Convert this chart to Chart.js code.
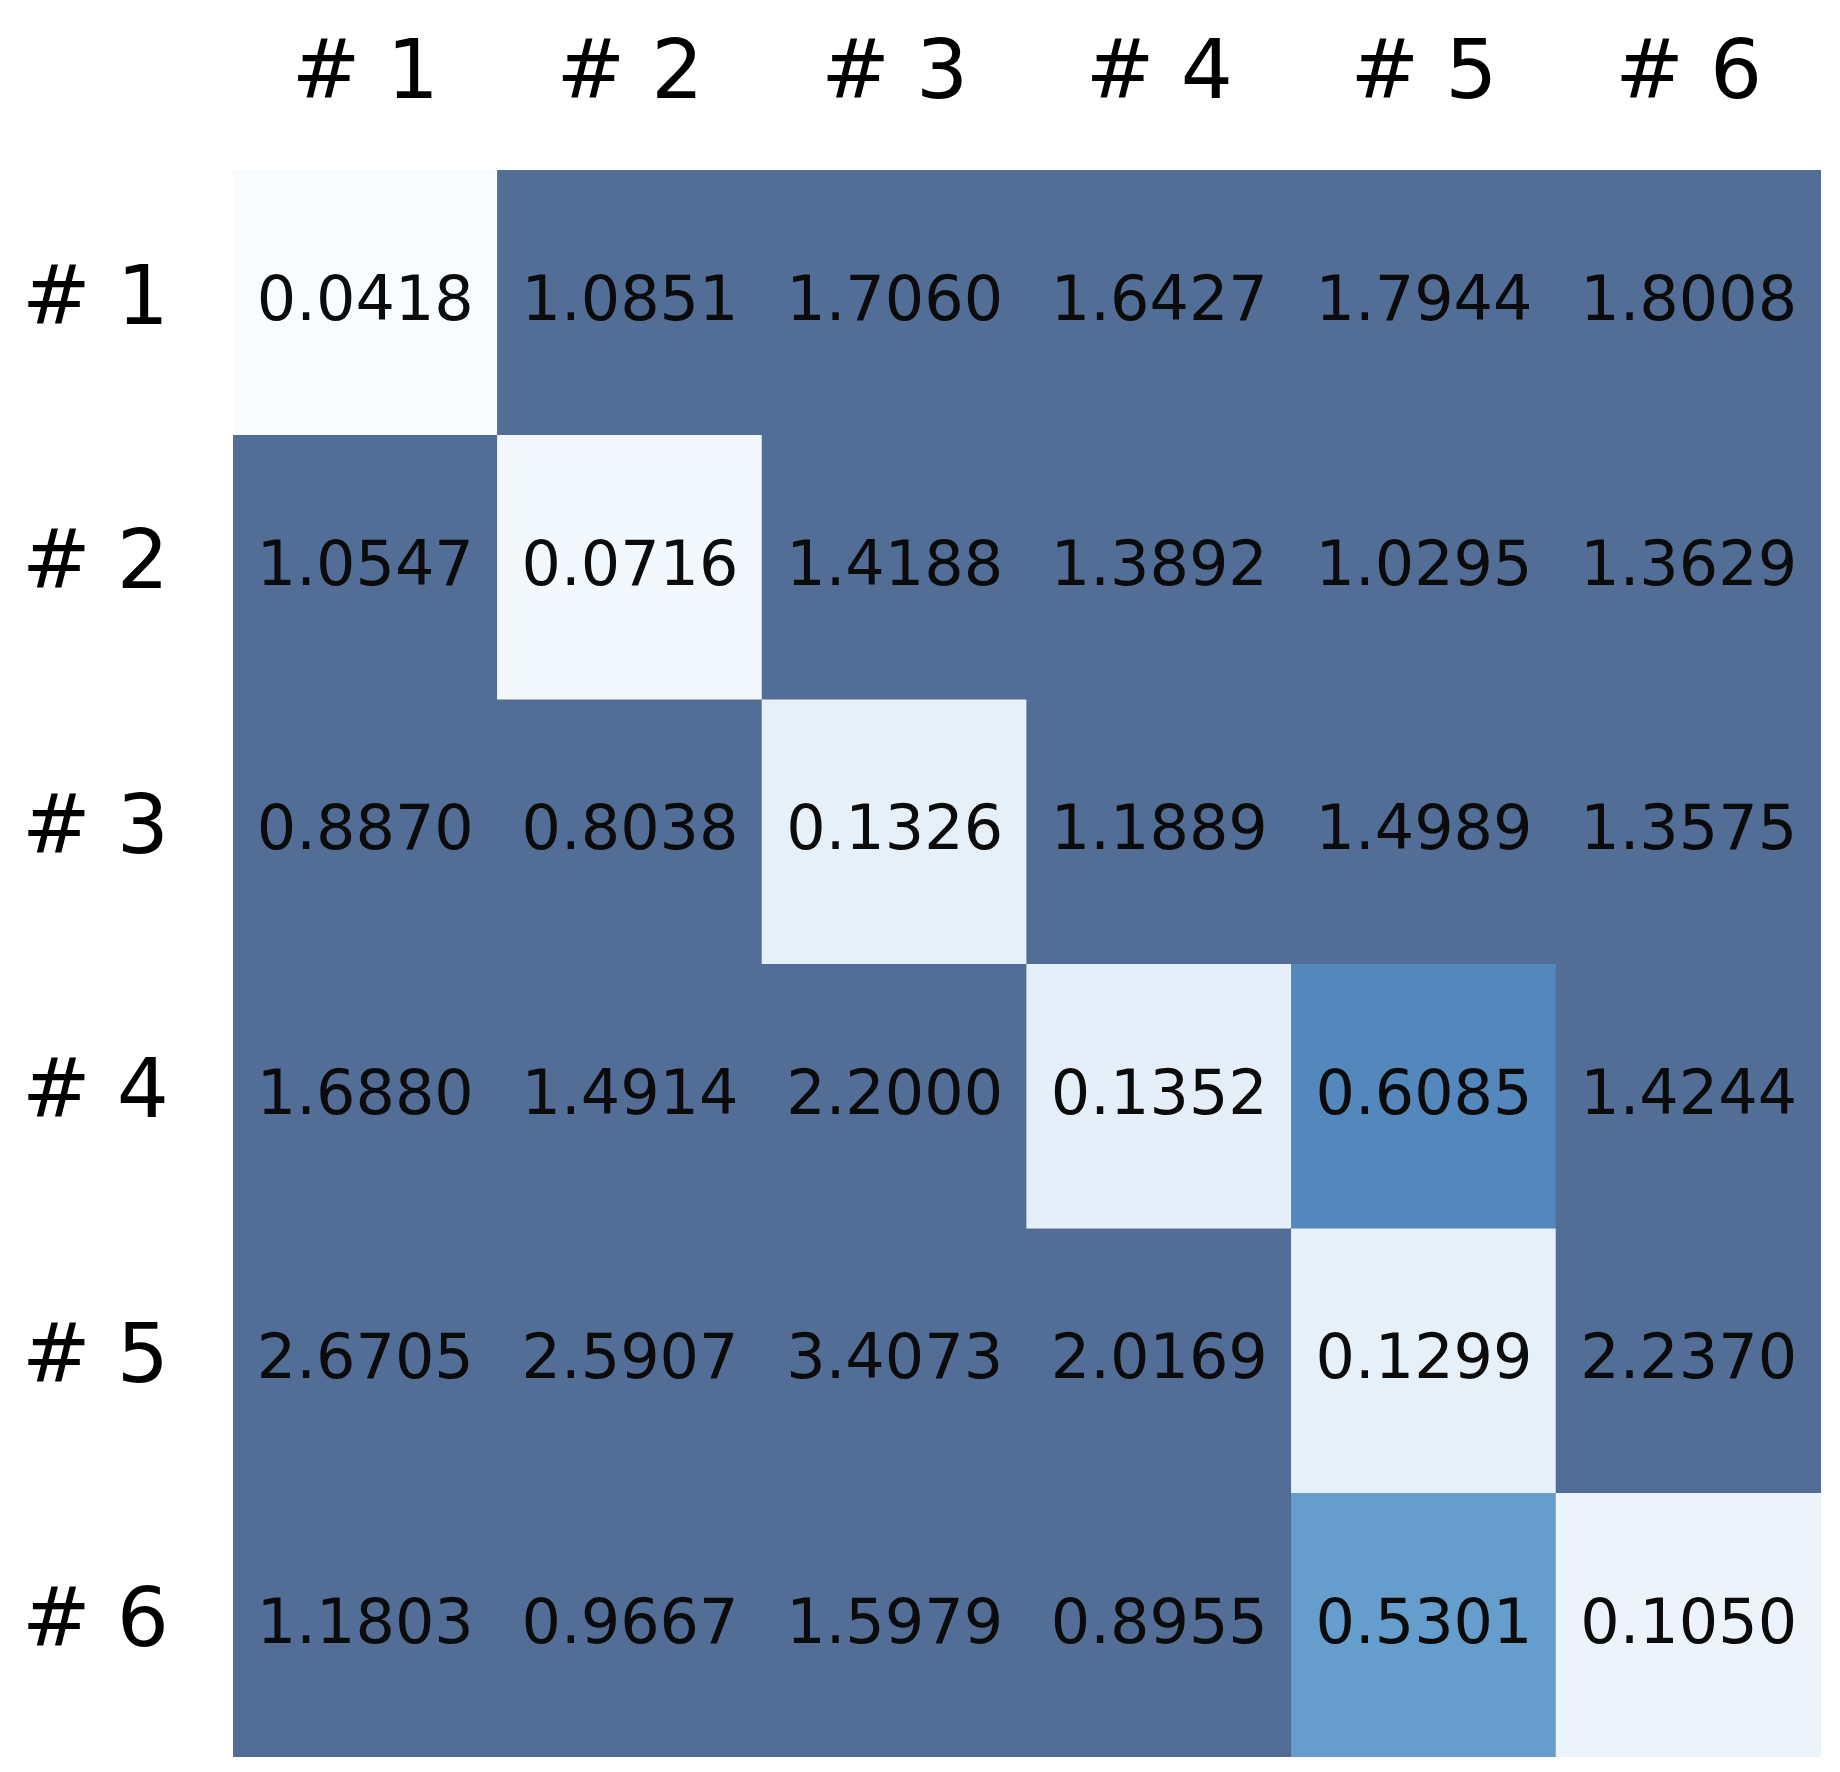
<!DOCTYPE html>
<html>
<head>
<meta charset="utf-8">
<script src="https://cdn.jsdelivr.net/npm/chart.js@4.4.0/dist/chart.umd.min.js"></script>
<style>
  body { margin: 0; background: #fff; }
</style>
</head>
<body>
<canvas id="heat" width="1840" height="1772"></canvas>
<script>
// labels
var colLabels = ['# 1', '# 2', '# 3', '# 4', '# 5', '# 6'];
var rowLabels = ['# 1', '# 2', '# 3', '# 4', '# 5', '# 6'];

// one array per row of the matrix
var row1 = [0.0418, 1.0851, 1.7060, 1.6427, 1.7944, 1.8008];
var row2 = [1.0547, 0.0716, 1.4188, 1.3892, 1.0295, 1.3629];
var row3 = [0.8870, 0.8038, 0.1326, 1.1889, 1.4989, 1.3575];
var row4 = [1.6880, 1.4914, 2.2000, 0.1352, 0.6085, 1.4244];
var row5 = [2.6705, 2.5907, 3.4073, 2.0169, 0.1299, 2.2370];
var row6 = [1.1803, 0.9667, 1.5979, 0.8955, 0.5301, 0.1050];
var rows = [row1, row2, row3, row4, row5, row6];

// colour scale (matplotlib "Blues", at 0.7 alpha over white)
var vmin = 0.04, vmax = 0.70;
var blues = [[247,251,255],[222,235,247],[198,219,239],[158,202,225],[107,174,214],
             [66,146,198],[33,113,181],[8,81,156],[8,48,107]];
function cellColor(v) {
  var t = Math.min(1, Math.max(0, (v - vmin) / (vmax - vmin)));
  var p = t * (blues.length - 1);
  var i = Math.min(Math.floor(p), blues.length - 2);
  var f = p - i;
  var c = blues[i].map(function(a, k) {
    var x = a + (blues[i+1][k] - a) * f;
    return Math.round(x * 0.7 + 255 * 0.3);
  });
  return 'rgb(' + c[0] + ',' + c[1] + ',' + c[2] + ')';
}

var datasets = rows.map(function(r, ri) {
  return {
    label: rowLabels[ri],
    data: r.map(function() { return [ri, ri + 1]; }),
    backgroundColor: r.map(cellColor),
    borderWidth: 0,
    inflateAmount: 0.6,
    barPercentage: 1,
    categoryPercentage: 1,
    grouped: false
  };
});

// write the value in the middle of every cell
var cellText = {
  id: 'cellText',
  afterDatasetsDraw: function(chart) {
    var ctx = chart.ctx;
    ctx.save();
    ctx.font = '62px "DejaVu Sans"';
    ctx.fillStyle = '#0b0b0b';
    ctx.textAlign = 'center';
    ctx.textBaseline = 'middle';
    chart.data.datasets.forEach(function(ds, ri) {
      chart.getDatasetMeta(ri).data.forEach(function(bar, ci) {
        var p = bar.getCenterPoint();
        ctx.fillText(rows[ri][ci].toFixed(4), p.x, p.y + 2);
      });
    });
    ctx.restore();
  }
};

var heat = new Chart(document.getElementById('heat').getContext('2d'), {
  type: 'bar',
  data: { labels: colLabels, datasets: datasets },
  plugins: [cellText],
  options: {
    responsive: false,
    animation: false,
    layout: { autoPadding: false, padding: { top: 0, left: 0, right: 19, bottom: 15 } },
    plugins: { legend: { display: false }, tooltip: { enabled: false } },
    scales: {
      x: {
        position: 'top',
        grid: { display: false, drawTicks: false },
        border: { display: false },
        ticks: { color: '#000', font: { family: 'DejaVu Sans', size: 82 }, padding: 44 },
        afterFit: function(s) { s.height = 170; s.paddingLeft = 0; s.paddingRight = 0; }
      },
      y: {
        min: 0, max: 6, reverse: true,
        grid: { display: false, drawTicks: false },
        border: { display: false },
        afterBuildTicks: function(s) {
          s.ticks = rowLabels.map(function(l, i) { return { value: i + 0.5 }; });
        },
        ticks: {
          autoSkip: false,
          color: '#000',
          font: { family: 'DejaVu Sans', size: 82 },
          padding: 64,
          callback: function(v, i) { return rowLabels[i]; }
        },
        afterFit: function(s) { s.width = 233; s.paddingTop = 0; s.paddingBottom = 0; }
      }
    }
  }
});
</script>
</body>
</html>
